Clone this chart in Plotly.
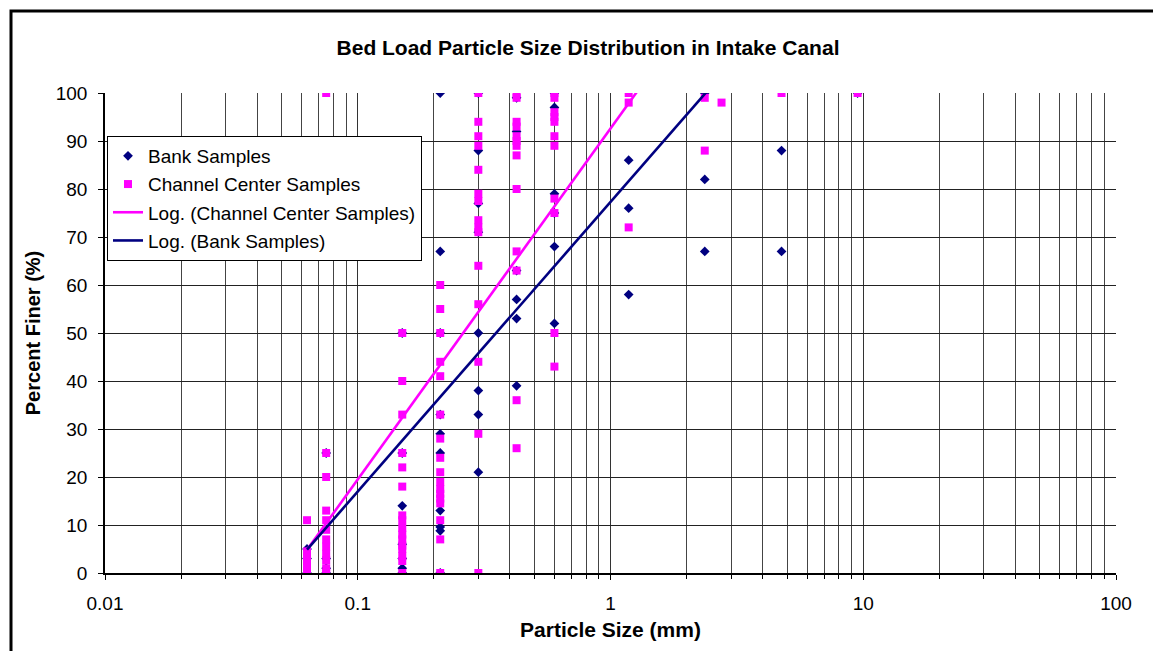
import numpy as np
import plotly.graph_objects as go

# Sieve sizes (mm) and percent finer for the bank samples
bank_size = (
    [0.063] * 3
    + [0.075] * 4
    + [0.15] * 7
    + [0.212] * 10
    + [0.3] * 8
    + [0.425] * 6
    + [0.6] * 6
    + [1.18] * 3
    + [2.36] * 3
    + [4.75] * 2
    + [9.5]
)
bank_finer = [
    5, 3, 0,
    25, 3, 1, 0,
    50, 25, 14, 6, 3, 1, 0,
    100, 67, 50, 33, 29, 25, 13, 9.6, 8.8, 0,
    100, 88, 77, 71, 50, 38, 33, 21,
    99, 92, 63, 57, 53, 39,
    100, 97, 79, 75, 68, 52,
    86, 76, 58,
    100, 82, 67,
    88, 67,
    100,
]

# Sieve sizes (mm) and percent finer for the channel center samples
center_size = (
    [0.063] * 7
    + [0.075] * 12
    + [0.15] * 16
    + [0.212] * 17
    + [0.3] * 15
    + [0.425] * 13
    + [0.6] * 11
    + [1.18] * 3
    + [2.36] * 2
    + [2.75]
    + [4.75]
    + [9.5]
)
center_finer = [
    11, 4.5, 3.5, 2.5, 1.5, 0.5, 0,
    100, 25, 20, 13, 11, 9, 7, 5.5, 4, 2.7, 1, 0,
    50, 40, 33, 25, 22, 18, 12, 11, 9.4, 8, 7, 5.7, 5, 3.5, 2.5, 0,
    60, 55, 50, 44, 41, 33, 28, 24, 21, 19, 17.5, 16.5, 15.5, 14.5, 11, 7, 0,
    100, 94, 91, 89, 84, 79, 77.5, 73.5, 72, 71, 64, 56, 44, 29, 0,
    100, 99, 94, 93, 91, 90, 89, 87, 80, 67, 63, 36, 26,
    100, 99, 96, 95, 94, 91, 89, 78, 75, 50, 43,
    100, 98, 72,
    99, 88,
    98,
    100,
    100,
]

# Logarithmic trendlines: y = a * ln(x) + b
bank_trend = {"a": 26.2, "b": 77.3}
center_trend = {"a": 31.75, "b": 92.6}

x_ticks = [0.01, 0.1, 1, 10, 100]
x_tick_labels = ["0.01", "0.1", "1", "10", "100"]
y_ticks = list(range(0, 101, 10))

NAVY = "#000080"
MAGENTA = "#FF00FF"
FONT = "Liberation Sans, Arial, sans-serif"

W, H = 1153, 651
L, R, T, B = 105, 1116, 93, 573  # plot area in pixels


def trend_curve(coef, xs):
    xx = np.logspace(np.log10(min(xs)), np.log10(max(xs)), 200)
    return xx, coef["a"] * np.log(xx) + coef["b"]


fig = go.Figure()

fig.add_trace(go.Scatter(
    x=bank_size, y=bank_finer, mode="markers", name="Bank Samples",
    marker=dict(symbol="diamond", size=7.5, color=NAVY, line=dict(width=0)),
    legendgroup="a",
))
fig.add_trace(go.Scatter(
    x=center_size, y=center_finer, mode="markers", name="Channel Center Samples",
    marker=dict(symbol="square", size=8, color=MAGENTA, line=dict(width=0)),
    legendgroup="b",
))

cx, cy = trend_curve(center_trend, center_size)
fig.add_trace(go.Scatter(
    x=cx, y=cy, mode="lines", name="Log. (Channel Center Samples)",
    line=dict(color=MAGENTA, width=2.6), legendgroup="c",
))
bx, by = trend_curve(bank_trend, bank_size)
fig.add_trace(go.Scatter(
    x=bx, y=by, mode="lines", name="Log. (Bank Samples)",
    line=dict(color=NAVY, width=2.6), legendgroup="d",
))

pw, ph = R - L, B - T


def px_x(p):
    return (p - L) / pw


def px_y(p):
    return (B - p) / ph


fig.update_layout(
    width=W, height=H,
    margin=dict(l=L, r=W - R, t=T, b=H - B, pad=0),
    paper_bgcolor="white", plot_bgcolor="white",
    font=dict(family=FONT, color="black", size=18),
    title=dict(
        text="<b>Bed Load Particle Size Distribution in Intake Canal</b>",
        x=px_x(588), xref="paper", xanchor="center",
        y=1 - 48 / H, yanchor="middle",
        font=dict(size=21, family=FONT, color="black"),
    ),
    showlegend=True,
    legend=dict(
        x=px_x(107), y=px_y(136), xanchor="left", yanchor="top",
        bgcolor="white", bordercolor="black", borderwidth=1,
        font=dict(size=19, family=FONT, color="black"),
        tracegroupgap=0.5,
    ),
    shapes=[
        dict(
            type="rect", xref="paper", yref="paper",
            x0=px_x(11), x1=px_x(W + 20), y0=px_y(H + 20), y1=px_y(11),
            line=dict(color="black", width=3), fillcolor="rgba(0,0,0,0)",
            layer="above",
        )
    ],
)

fig.update_xaxes(
    type="log", range=[-2, 2],
    tickvals=x_ticks, ticktext=x_tick_labels,
    showgrid=True, gridcolor="#333333", gridwidth=1,
    minor=dict(dtick="D1", showgrid=True, gridcolor="#444444", gridwidth=1,
               ticks="outside", ticklen=4, tickcolor="black"),
    ticks="outside", ticklen=5, tickcolor="black",
    showline=True, linecolor="black", linewidth=1.5,
    tickfont=dict(size=19, family=FONT),
    ticklabelstandoff=7,
    title=dict(text="<b>Particle Size (mm)</b>", font=dict(size=21, family=FONT), standoff=10),
    zeroline=False,
)
fig.update_yaxes(
    range=[0, 100], tickvals=y_ticks,
    showgrid=True, gridcolor="#222222", gridwidth=1,
    ticks="outside", ticklen=5, tickcolor="black",
    showline=True, linecolor="black", linewidth=1.5,
    tickfont=dict(size=19, family=FONT),
    ticklabelstandoff=7,
    title=dict(text="<b>Percent Finer (%)</b>", font=dict(size=20, family=FONT), standoff=10),
    zeroline=False,
)

fig.write_html("out.html")
